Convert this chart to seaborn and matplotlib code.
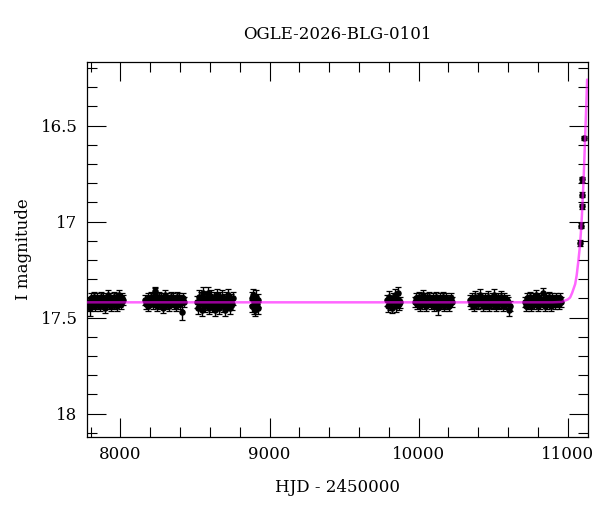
import numpy as np
import pandas as pd
import matplotlib
matplotlib.use("Agg")
import matplotlib.pyplot as plt
import seaborn as sns
from matplotlib.ticker import MultipleLocator, FormatStrFormatter

# Datos: fotometria OGLE por temporada (HJD - 2450000, magnitud I)

s1_hjd = [7788, 7795, 7801, 7808, 7814, 7821, 7828, 7834, 7841, 7847, 7855, 7861, 7868, 7874, 7881, 7888, 7894, 7901,
          7907, 7914, 7921, 7927, 7934, 7940, 7947, 7954, 7960, 7967, 7973, 7980, 7987, 7993, 8000, 8006, 8013, 8020]
s1_mag = [17.42, 17.44, 17.40, 17.43, 17.41, 17.39, 17.44, 17.42, 17.40, 17.43, 17.41, 17.44, 17.39, 17.42, 17.40, 17.43,
          17.45, 17.41, 17.42, 17.38, 17.43, 17.40, 17.42, 17.44, 17.41, 17.39, 17.43, 17.42, 17.40, 17.44, 17.41, 17.38,
          17.42, 17.43, 17.40, 17.41]

s2_hjd = [8168, 8175, 8182, 8188, 8195, 8202, 8209, 8216, 8222, 8229, 8236, 8243, 8250, 8256, 8263, 8270, 8277, 8284,
          8290, 8297, 8304, 8311, 8318, 8324, 8331, 8338, 8345, 8352, 8358, 8365, 8372, 8379, 8386, 8392, 8399, 8406,
          8420, 8427]
s2_mag = [17.41, 17.43, 17.40, 17.44, 17.42, 17.39, 17.41, 17.43, 17.40, 17.37, 17.42, 17.44, 17.41, 17.39, 17.43, 17.40,
          17.42, 17.45, 17.41, 17.38, 17.43, 17.40, 17.42, 17.44, 17.41, 17.39, 17.42, 17.40, 17.43, 17.41, 17.44, 17.39,
          17.42, 17.40, 17.43, 17.41, 17.40, 17.42]

s3_hjd = [8515, 8522, 8528, 8535, 8542, 8549, 8562, 8569, 8576, 8582, 8589, 8596, 8603, 8609, 8616, 8623, 8630, 8636,
          8643, 8650, 8657, 8663, 8670, 8677, 8684, 8690, 8697, 8704, 8711, 8717, 8724, 8731, 8738, 8744, 8751, 8758]
s3_mag = [17.42, 17.45, 17.39, 17.43, 17.40, 17.46, 17.42, 17.44, 17.40, 17.43, 17.37, 17.45, 17.41, 17.39, 17.44, 17.42,
          17.40, 17.46, 17.41, 17.38, 17.43, 17.45, 17.40, 17.42, 17.39, 17.44, 17.41, 17.46, 17.40, 17.43, 17.38, 17.42,
          17.45, 17.41, 17.43, 17.40]

s4_hjd = [8880, 8885, 8890, 8895, 8900, 8905, 8910, 8915, 8920, 8925]
s4_mag = [17.40, 17.44, 17.38, 17.45, 17.42, 17.46, 17.39, 17.43, 17.41, 17.45]

s5_hjd = [9790, 9797, 9803, 9810, 9816, 9823, 9829, 9836, 9842, 9849, 9855, 9862, 9868, 9875]
s5_mag = [17.41, 17.44, 17.39, 17.43, 17.42, 17.45, 17.40, 17.42, 17.38, 17.44, 17.41, 17.37, 17.43, 17.42]

s6_hjd = [9975, 9982, 9989, 9996, 10003, 10010, 10017, 10024, 10031, 10038, 10045, 10052, 10059, 10066, 10073, 10080,
          10087, 10094, 10101, 10108, 10115, 10122, 10136, 10143, 10150, 10157, 10164, 10171, 10178, 10185, 10192,
          10199, 10206, 10213, 10220, 10227]
s6_mag = [17.42, 17.40, 17.43, 17.41, 17.39, 17.44, 17.42, 17.40, 17.38, 17.43, 17.41, 17.44, 17.40, 17.42, 17.39, 17.43,
          17.41, 17.40, 17.44, 17.42, 17.39, 17.43, 17.41, 17.40, 17.43, 17.42, 17.39, 17.44, 17.41, 17.40, 17.43,
          17.42, 17.44, 17.41, 17.40, 17.42]

s7_hjd = [10345, 10352, 10359, 10366, 10373, 10380, 10387, 10394, 10401, 10408, 10415, 10422, 10429, 10436, 10443,
          10450, 10457, 10464, 10471, 10478, 10485, 10492, 10499, 10506, 10513, 10520, 10527, 10534, 10541, 10548,
          10555, 10562, 10569, 10576, 10583, 10590, 10597, 10611]
s7_mag = [17.41, 17.43, 17.40, 17.42, 17.44, 17.39, 17.42, 17.41, 17.43, 17.40, 17.38, 17.42, 17.44, 17.41, 17.40,
          17.43, 17.42, 17.39, 17.44, 17.41, 17.42, 17.40, 17.43, 17.38, 17.41, 17.44, 17.42, 17.40, 17.43, 17.41,
          17.39, 17.42, 17.44, 17.40, 17.43, 17.41, 17.42, 17.44]

s8_hjd = [10712, 10719, 10726, 10733, 10740, 10747, 10754, 10761, 10768, 10775, 10782, 10789, 10796, 10803, 10810,
          10817, 10824, 10831, 10838, 10845, 10852, 10859, 10866, 10873, 10880, 10887, 10894, 10901, 10908, 10915,
          10922, 10929, 10936, 10943, 10950, 10957]
s8_mag = [17.42, 17.44, 17.40, 17.43, 17.41, 17.39, 17.44, 17.42, 17.40, 17.43, 17.41, 17.38, 17.42, 17.44, 17.40,
          17.43, 17.41, 17.37, 17.42, 17.44, 17.40, 17.43, 17.41, 17.39, 17.42, 17.44, 17.40, 17.42, 17.41, 17.43,
          17.40, 17.42, 17.41, 17.43, 17.40, 17.42]

season_hjd = [s1_hjd, s2_hjd, s3_hjd, s4_hjd, s5_hjd, s6_hjd, s7_hjd, s8_hjd]
season_mag = [s1_mag, s2_mag, s3_mag, s4_mag, s5_mag, s6_mag, s7_mag, s8_mag]
season_err = [0.026, 0.026, 0.032, 0.032, 0.028, 0.026, 0.027, 0.026]

# Puntos con barras de error grandes
out_hjd = [7797, 8229, 8413, 8555, 10129, 10604]
out_mag = [17.45, 17.36, 17.47, 17.37, 17.45, 17.46]
out_err = [0.040, 0.020, 0.040, 0.030, 0.035, 0.030]

# Subida del evento
ev_hjd = [11085, 11091, 11095, 11097, 11099, 11112]
ev_mag = [17.11, 17.02, 16.92, 16.86, 16.78, 16.565]
ev_err = [0.015, 0.014, 0.013, 0.013, 0.012, 0.012]

# Modelo
model_hjd = [7778, 10900, 10960, 11000, 11016, 11030, 11050, 11060, 11072, 11080, 11088, 11095, 11102, 11108,
             11114, 11120, 11126, 11130]
model_mag = [17.42, 17.42, 17.418, 17.405, 17.395, 17.37, 17.325, 17.28, 17.20, 17.14, 17.06, 16.97, 16.86, 16.75,
             16.62, 16.49, 16.36, 16.26]

# Tabla de fotometria
rows = []
for h, m, e in zip(season_hjd, season_mag, season_err):
    rows.append(pd.DataFrame({"hjd": h, "mag": m, "err": e}))
rows.append(pd.DataFrame({"hjd": out_hjd, "mag": out_mag, "err": out_err}))
rows.append(pd.DataFrame({"hjd": ev_hjd, "mag": ev_mag, "err": ev_err}))
phot = pd.concat(rows, ignore_index=True)
model = pd.DataFrame({"hjd": model_hjd, "mag": model_mag})

# Grafico

sns.set_theme(style="ticks")
plt.rcParams['font.family'] = ['DejaVu Serif']
plt.rcParams['text.color'] = 'black'
plt.rcParams['axes.labelcolor'] = 'black'

fig = plt.figure(figsize=(6, 5.12), dpi=100)
ax = fig.add_axes([0.1455, 0.147, 0.834, 0.7313])

ax.errorbar(phot["hjd"], phot["mag"], yerr=phot["err"], fmt="none", ecolor="black",
            elinewidth=1.0, capsize=2.4, capthick=0.9, zorder=2)
sns.scatterplot(data=phot, x="hjd", y="mag", color="black", s=22, linewidth=0, ax=ax, zorder=3)
sns.lineplot(data=model, x="hjd", y="mag", color="magenta", alpha=0.6, lw=1.8, sort=False, ax=ax, zorder=4)

ax.set_xlim(7778, 11134)
ax.set_ylim(18.12, 16.17)

ax.xaxis.set_major_locator(MultipleLocator(1000))
ax.xaxis.set_minor_locator(MultipleLocator(200))
ax.yaxis.set_major_locator(MultipleLocator(0.5))
ax.yaxis.set_minor_locator(MultipleLocator(0.1))
ax.yaxis.set_major_formatter(FormatStrFormatter('%g'))

ax.tick_params(which="both", direction="in", top=True, right=True, width=0.8, colors="black",
               labelsize=12, pad=7)
ax.tick_params(which="major", length=13.5)
ax.tick_params(which="minor", length=7.2)
for sp in ax.spines.values():
    sp.set_linewidth(0.9)
    sp.set_color("black")

ax.set_xlabel("HJD - 2450000", fontsize=12, labelpad=11, color="black")
ax.set_ylabel("I magnitude", fontsize=12, labelpad=6, color="black")
ax.set_title("OGLE-2026-BLG-0101", fontsize=12, pad=17, color="black")

fig.savefig("out.png", dpi=100)
